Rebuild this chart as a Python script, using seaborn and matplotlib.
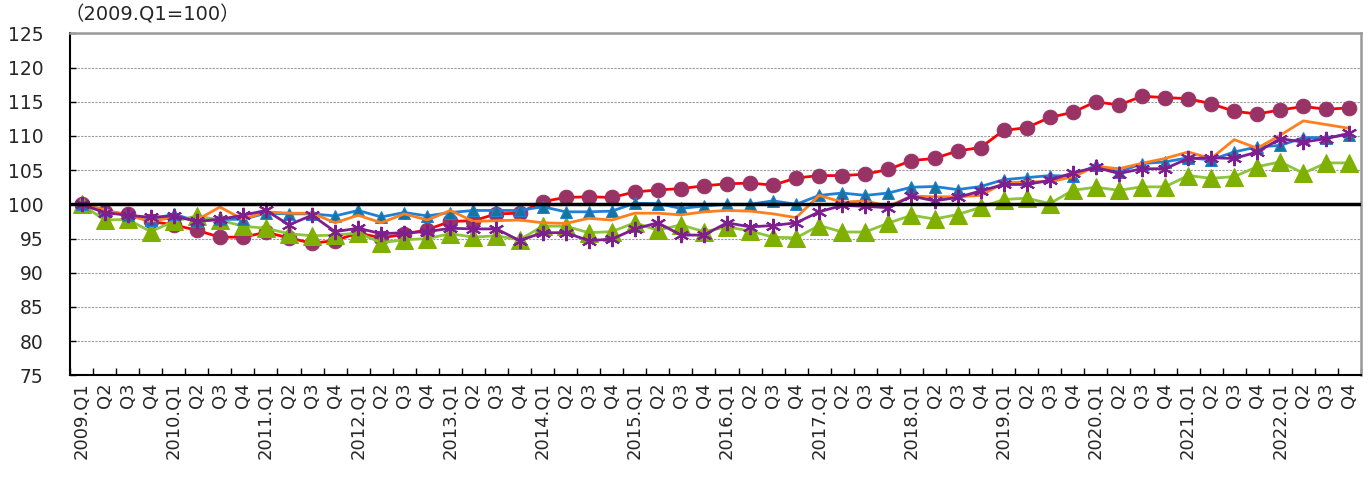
import numpy as np
import matplotlib
matplotlib.use("Agg")
import matplotlib.pyplot as plt
import seaborn as sns

years = list(range(2009, 2023))
quarter_labels = []
for y in years:
    quarter_labels += [f"{y}.Q1", "Q2", "Q3", "Q4"]

# series (2009.Q1 = 100)
red_circle = [100.0, 98.9, 98.6, 97.5, 97.0, 96.2, 95.2, 95.2, 95.9, 95.1, 94.3, 94.7, 95.8, 95.1,
              95.6, 96.3, 97.5, 97.6, 98.6, 98.7, 100.4, 101.0, 101.1, 101.0, 101.8, 102.1, 102.3, 102.7,
              103.0, 103.1, 102.8, 103.85, 104.2, 104.2, 104.4, 105.1, 106.4, 106.7, 107.8, 108.3, 110.8, 111.2,
              112.7, 113.45, 115.0, 114.5, 115.8, 115.6, 115.45, 114.7, 113.6, 113.2, 113.8, 114.3, 113.9, 114.1]
orange_line = [100.0, 99.2, 98.4, 97.5, 98.1, 97.7, 99.6, 97.8, 98.9, 98.7, 98.7, 97.3, 98.4, 97.3,
               98.6, 97.7, 99.1, 97.5, 97.6, 97.7, 97.3, 97.2, 97.95, 97.7, 98.7, 98.7, 98.45, 98.9,
               99.1, 99.0, 98.6, 98.05, 101.3, 100.3, 100.5, 99.7, 101.2, 101.1, 101.1, 101.3, 103.1, 103.3,
               103.3, 104.0, 105.55, 105.2, 106.0, 106.7, 107.65, 106.7, 109.45, 108.2, 110.1, 112.2, 111.65, 111.1]
blue_triangle = [100.0, 99.1, 98.4, 97.7, 98.6, 97.5, 97.8, 97.8, 98.7, 98.6, 98.6, 98.3, 99.1, 98.15,
                 98.8, 98.3, 98.8, 99.1, 99.1, 99.1, 99.65, 98.9, 98.9, 99.0, 100.15, 100.1, 99.4, 99.75,
                 100.0, 100.0, 100.5, 100.0, 101.3, 101.65, 101.3, 101.65, 102.5, 102.6, 102.15, 102.6, 103.6, 103.9,
                 104.2, 104.1, 105.7, 104.7, 105.95, 106.2, 106.8, 106.5, 107.65, 108.4, 108.6, 109.75, 109.75, 110.2]
purple_star = [100.0, 98.8, 98.4, 98.1, 98.3, 97.5, 97.8, 98.4, 99.1, 97.0, 98.4, 96.0, 96.5, 95.7,
               95.85, 96.0, 96.5, 96.4, 96.4, 94.7, 95.85, 95.85, 94.7, 94.9, 96.4, 97.3, 95.5, 95.5,
               97.3, 96.7, 96.9, 97.3, 98.9, 99.85, 99.7, 99.5, 101.2, 100.5, 101.0, 101.95, 102.9, 102.9,
               103.5, 104.6, 105.4, 104.5, 105.2, 105.2, 106.7, 106.8, 106.7, 107.65, 109.6, 109.1, 109.6, 110.4]
green_triangle = [100.0, 97.7, 97.8, 96.0, 97.5, 98.3, 97.7, 96.8, 96.5, 95.7, 95.4, 95.5, 95.8, 94.4,
                  94.8, 95.0, 95.7, 95.2, 95.4, 94.8, 96.8, 96.8, 95.85, 96.0, 97.3, 96.2, 97.0, 96.0,
                  96.7, 96.1, 95.2, 95.1, 96.9, 95.95, 95.95, 97.25, 98.4, 97.85, 98.5, 99.55, 100.7, 100.9,
                  100.1, 102.05, 102.5, 102.05, 102.55, 102.55, 104.2, 103.8, 104.05, 105.5, 106.2, 104.55, 106.05, 106.05]

sns.set_theme(style="white")
plt.rcParams["font.family"] = ["DejaVu Sans", "Noto Sans CJK JP"]

W, H = 1369, 484
fig = plt.figure(figsize=(W / 100, H / 100), dpi=100)
ax = fig.add_axes([70 / W, 1 - 375.3 / H, 1291 / W, (375.3 - 33.3) / H])

x = np.arange(len(quarter_labels))

sns.lineplot(x=x, y=red_circle, ax=ax, color="#FF0000", lw=2, marker="o", markersize=10.5,
             markerfacecolor="#993366", markeredgecolor="#993366", zorder=3)
sns.lineplot(x=x, y=green_triangle, ax=ax, color="#8CC43C", lw=2, marker="^", markersize=13,
             markerfacecolor="#7FB000", markeredgecolor="#7FB000", zorder=4)
sns.lineplot(x=x, y=blue_triangle, ax=ax, color="#1F80D8", lw=2, marker="^", markersize=9,
             markerfacecolor="#16759C", markeredgecolor="#1F80D8", zorder=5)
sns.lineplot(x=x, y=orange_line, ax=ax, color="#FF7F1E", lw=2, zorder=6)
sns.lineplot(x=x, y=purple_star, ax=ax, color="#7F1F8F", lw=2, marker=(6, 2, 0), markersize=11,
             markeredgewidth=1.5, markeredgecolor="#7F1F8F", zorder=7)

ax.axhline(100, color="black", lw=2.5, zorder=8)

ax.set_xlim(-0.5, len(quarter_labels) - 0.5)
ax.set_ylim(75, 125)
ax.set_yticks(range(75, 126, 5))
ax.set_xticks(x)
ax.set_xticklabels(quarter_labels, rotation=90, fontsize=13)
ax.set_xticks(np.arange(-0.5, len(quarter_labels), 1), minor=True)
ax.tick_params(axis="x", which="major", length=0, pad=5)
ax.tick_params(axis="x", which="minor", direction="in", length=5, width=1, color="black", bottom=True)
ax.tick_params(axis="y", direction="in", length=4, width=1, color="black", left=True, pad=19, labelsize=13.5)

ax.yaxis.grid(True, linestyle=(0, (2, 1.2)), color="#999999", lw=0.8)
ax.xaxis.grid(False)
ax.set_axisbelow(True)

for side in ["left", "bottom"]:
    ax.spines[side].set_color("black")
    ax.spines[side].set_linewidth(1.5)
for side in ["top", "right"]:
    ax.spines[side].set_color("#999999")
    ax.spines[side].set_linewidth(1.8)
ax.set_xlabel("")
ax.set_ylabel("")

fig.text(64 / W, 1 - 5 / H, "（2009.Q1=100）", ha="left", va="top", fontsize=14)

fig.savefig("out.png", dpi=100)
print("saved: out.png")
